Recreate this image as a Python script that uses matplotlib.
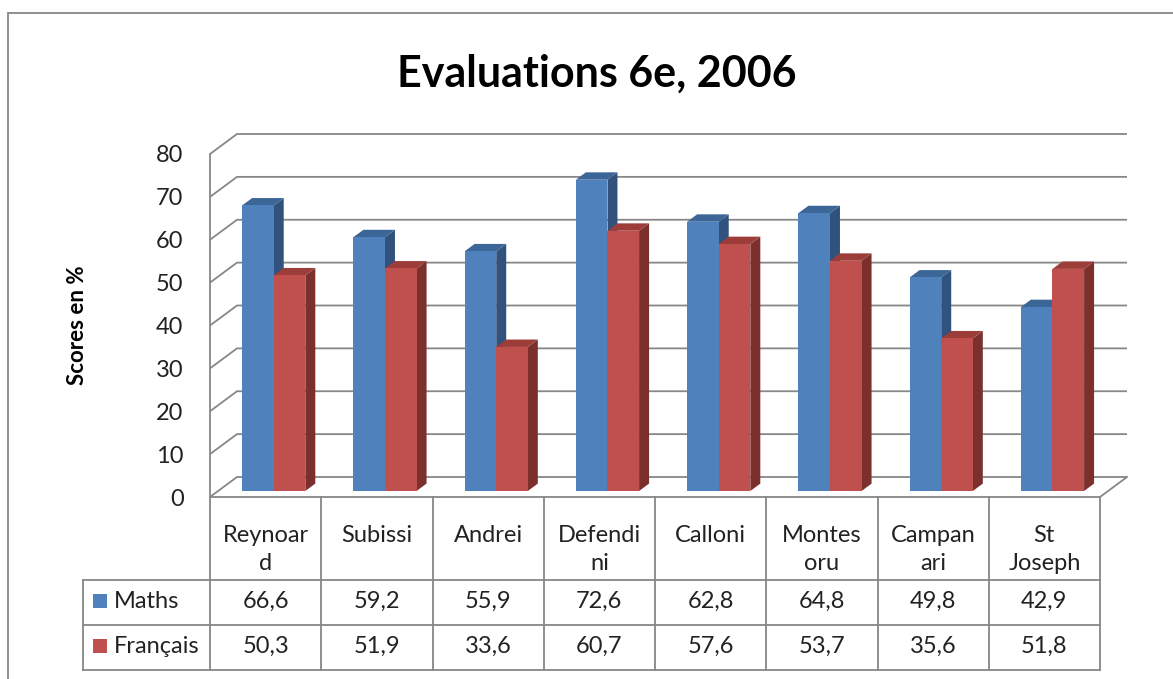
import numpy as np
import matplotlib
matplotlib.use("Agg")
import matplotlib.pyplot as plt
from matplotlib.patches import Rectangle

# Scores per school (percent)
schools = ["Reynoar\nd", "Subissi", "Andrei", "Defendi\nni", "Calloni", "Montes\noru", "Campan\nari", "St\nJoseph"]
series_names = ["Maths", "Français"]
maths = [66.6, 59.2, 55.9, 72.6, 62.8, 64.8, 49.8, 42.9]
francais = [50.3, 51.9, 33.6, 60.7, 57.6, 53.7, 35.6, 51.8]
yticks = [0, 10, 20, 30, 40, 50, 60, 70, 80]

# colours: front, top, side
colors = [("#4F81BD", "#3C6698", "#31527C"),
          ("#C0504D", "#9C3D3A", "#7C302E")]
line_col = "#878787"
text_col = "#222222"

plt.rcParams["font.family"] = ["Lato", "DejaVu Sans"]

W, H = 1173, 679
fig = plt.figure(figsize=(W / 100, H / 100), dpi=100)

# plot area in pixels
left_px, right_px, top_px, bottom_px = 210, 1100, 154, 497
ax = fig.add_axes([left_px / W, 1 - bottom_px / H,
                   (right_px - left_px) / W, (bottom_px - top_px) / H])
n = len(schools)
ymax = 80
ax.set_xlim(0, n)
ax.set_ylim(0, ymax)

# pixel -> data unit factors
cx = n / (right_px - left_px)
cy = ymax / (bottom_px - top_px)

# 3d depth of the walls
dx, dy = 27 * cx, 20 * cy

# back wall gridlines + left wall
for v in yticks:
    ax.plot([0, dx, n + dx], [v, v + dy, v + dy], color=line_col, lw=1.3,
            clip_on=False, zorder=1, solid_capstyle="butt")
ax.plot([n, n + dx], [0, dy], color=line_col, lw=1.3, clip_on=False, zorder=1)

# bars
front_f, depth_f = 0.3, 0.37
ox, oy = front_f * dx, front_f * dy
bdx, bdy = depth_f * dx, depth_f * dy
bw = 31.6 * cx
gap = (1 - 2 * bw) / 2
x = np.arange(n)
for j, vals in enumerate([maths, francais]):
    fc, tc, sc = colors[j]
    z = 2 + j
    xl = x + gap + j * bw + ox
    for xi, v in zip(xl, vals):
        ax.fill([xi + bw, xi + bw + bdx, xi + bw + bdx, xi + bw],
                [oy, oy + bdy, oy + v + bdy, oy + v], color=sc, lw=0,
                clip_on=False, zorder=z)
        ax.fill([xi, xi + bw, xi + bw + bdx, xi + bdx],
                [oy + v, oy + v, oy + v + bdy, oy + v + bdy], color=tc, lw=0,
                clip_on=False, zorder=z)
    ax.bar(xl, vals, width=bw, bottom=oy, align="edge", color=fc, lw=0,
           zorder=z + 0.5, clip_on=False)

fs = 17

# axes
ax.set_xticks([])
ax.set_yticks(yticks)
ax.tick_params(axis="y", length=0, pad=19, labelsize=fs, labelcolor=text_col)
for s in ["top", "right"]:
    ax.spines[s].set_visible(False)
for s in ["left", "bottom"]:
    ax.spines[s].set_color(line_col)
    ax.spines[s].set_linewidth(1.3)
ax.set_ylabel("Scores en %", fontsize=16, fontweight="bold")
ax.yaxis.set_label_coords((88 - left_px) / (right_px - left_px), 0.5)
ax.patch.set_visible(False)

# data table under the chart
key_l = -(left_px - 83) * cx
r0, r1, r2, r3 = 0, -83 * cy, -128 * cy, -173 * cy
tkw = dict(color=line_col, lw=1.3, clip_on=False, zorder=1)
for yy in [r1, r2, r3]:
    ax.plot([key_l, n], [yy, yy], **tkw)
ax.plot([key_l, key_l], [r1, r3], **tkw)
for i in range(n + 1):
    ax.plot([i, i], [r0, r3], **tkw)

# school names, wrapped over two lines where needed
for i, name in enumerate(schools):
    for k, part in enumerate(name.split("\n")):
        ax.text(i + 0.5, r0 - (45 + 28 * k) * cy, part, ha="center",
                va="baseline", fontsize=fs, color=text_col, clip_on=False)
for j, vals in enumerate([maths, francais]):
    top = r1 if j == 0 else r2
    base = top - 28 * cy
    for i, v in enumerate(vals):
        ax.text(i + 0.5, base, f"{v:.1f}".replace(".", ","), ha="center",
                va="baseline", fontsize=fs, color=text_col, clip_on=False)
    ax.add_patch(Rectangle((key_l + 10 * cx, base), 14 * cx, 14 * cy,
                           color=colors[j][0], lw=0, clip_on=False))
    ax.text(key_l + 31 * cx, base, series_names[j], ha="left", va="baseline",
            fontsize=fs, color=text_col, clip_on=False)

# title and outer frame
fig.text(597 / W, 1 - 87 / H, "Evaluations 6e, 2006", ha="center",
         va="baseline", fontsize=31, fontweight="bold")
fig.add_artist(Rectangle((8 / W, -0.05), 1.1, 1 - 13 / H + 0.05,
                         transform=fig.transFigure, fill=False,
                         edgecolor=line_col, lw=1.3))

fig.savefig("out.png", dpi=100)
